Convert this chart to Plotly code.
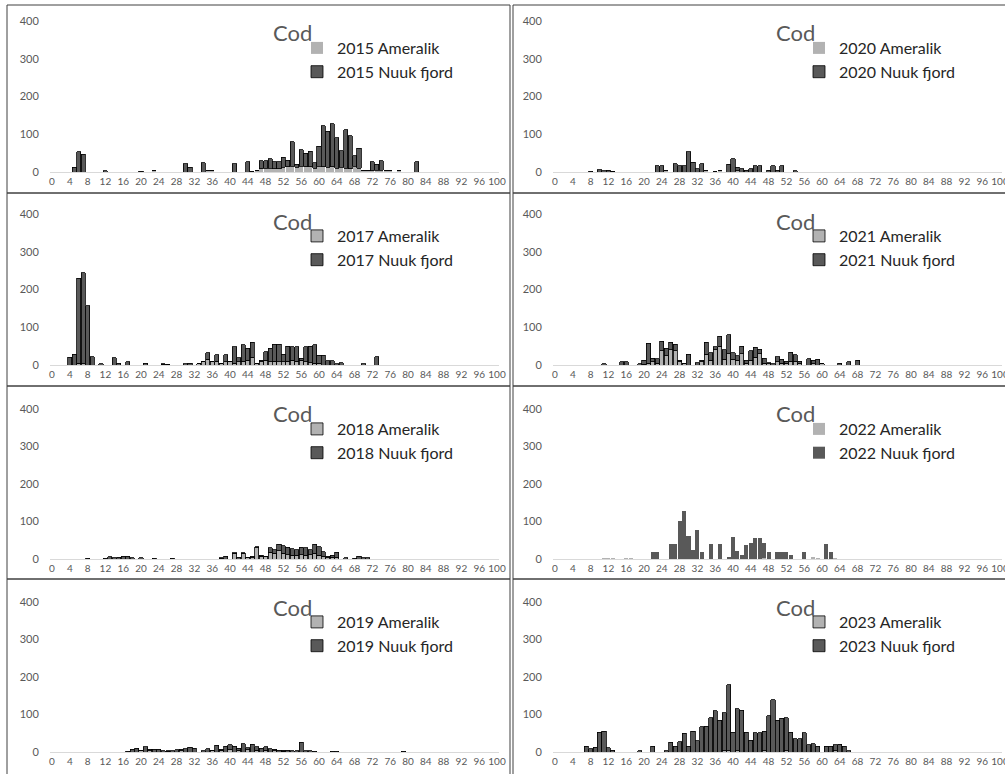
import plotly.graph_objects as go

W, H = 1005, 774

# ---------------- data (fish length in cm, 0..100) ----------------
lengths = list(range(0, 101))
tick_vals = list(range(0, 101, 4))
tick_text = [str(v) for v in tick_vals]
y_ticks = [0, 100, 200, 300, 400]


def pad(v):
    return v + [0] * (101 - len(v))


ameralik_2015 = pad([
    0, 0, 0, 0, 0, 0, 0, 0, 0, 0,
    0, 0, 0, 0, 0, 0, 0, 0, 0, 0,
    0, 0, 0, 4, 0, 0, 0, 0, 0, 0,
    0, 0, 0, 0, 0, 3, 3, 0, 0, 0,
    0, 0, 0, 0, 0, 2, 5, 8, 10, 10,
    8, 8, 12, 14, 15, 12, 15, 14, 14, 10,
    15, 14, 12, 14, 10, 12, 10, 8, 15, 10,
    5, 3, 3, 4, 5, 3, 3, 0, 3, 0])
nuuk_2015 = pad([
    0, 0, 0, 0, 0, 12, 53, 47, 0, 0,
    0, 0, 3, 0, 0, 0, 0, 0, 0, 0,
    2, 0, 0, 0, 0, 0, 0, 0, 0, 0,
    22, 13, 0, 0, 24, 0, 0, 0, 0, 0,
    0, 22, 0, 0, 27, 0, 0, 22, 20, 25,
    19, 19, 27, 17, 65, 8, 44, 36, 41, 15,
    53, 109, 96, 114, 81, 44, 102, 88, 28, 53,
    0, 0, 24, 17, 25, 0, 0, 0, 0, 0,
    0, 0, 27])

ameralik_2017 = pad([
    0, 0, 0, 0, 0, 0, 4, 3, 0, 0,
    0, 0, 0, 0, 0, 0, 0, 0, 0, 0,
    0, 0, 0, 0, 0, 2, 2, 0, 0, 0,
    0, 0, 0, 3, 8, 15, 8, 10, 3, 8,
    10, 5, 8, 10, 12, 20, 3, 8, 12, 8,
    10, 8, 8, 10, 12, 10, 12, 8, 6, 5,
    5])
nuuk_2017 = pad([
    0, 0, 0, 0, 20, 29, 226, 242, 157, 22,
    0, 3, 0, 0, 19, 5, 0, 8, 0, 0,
    0, 4, 0, 0, 0, 1, 0, 0, 0, 0,
    3, 5, 0, 0, 1, 17, 0, 17, 0, 19,
    0, 43, 11, 44, 32, 40, 0, 5, 23, 37,
    45, 47, 20, 40, 36, 38, 6, 40, 44, 48,
    21, 26, 11, 11, 3, 6, 0, 0, 0, 0,
    3, 0, 0, 22])

ameralik_2018 = pad([
    0, 0, 0, 0, 0, 0, 0, 0, 0, 0,
    0, 0, 0, 0, 0, 0, 0, 0, 0, 0,
    0, 0, 0, 0, 0, 0, 0, 0, 0, 0,
    0, 0, 0, 0, 0, 0, 0, 0, 2, 0,
    0, 15, 0, 15, 3, 3, 30, 8, 6, 18,
    15, 22, 15, 12, 10, 10, 12, 10, 12, 15,
    10, 8, 3, 5, 5])
nuuk_2018 = pad([
    0, 0, 0, 0, 0, 0, 0, 0, 2, 0,
    0, 0, 2, 6, 3, 5, 7, 8, 3, 0,
    4, 0, 0, 2, 0, 0, 0, 2, 0, 0,
    0, 0, 0, 0, 0, 0, 0, 0, 1, 7,
    0, 2, 5, 2, 2, 5, 3, 2, 2, 12,
    10, 18, 21, 19, 18, 15, 20, 20, 13, 25,
    23, 12, 5, 5, 13, 0, 4, 0, 2, 7,
    3, 3])

ameralik_2019 = pad([
    0, 0, 0, 0, 0, 0, 0, 0, 0, 0,
    0, 0, 0, 0, 0, 0, 0, 0, 0, 0,
    3, 0, 3, 0, 0, 0, 2, 0, 0, 3,
    0, 0, 0, 0, 0, 0, 4, 0, 5, 0,
    6, 0, 5, 0, 6, 0, 5, 0, 5, 0,
    3, 0, 2])
nuuk_2019 = pad([
    0, 0, 0, 0, 0, 0, 0, 0, 0, 0,
    0, 0, 0, 0, 0, 0, 0, 2, 8, 10,
    2, 14, 4, 8, 8, 4, 1, 3, 6, 4,
    9, 13, 10, 0, 3, 9, 1, 18, 3, 15,
    14, 16, 5, 22, 6, 21, 9, 10, 9, 9,
    5, 5, 3, 5, 4, 3, 26, 4, 3, 2,
    0, 0, 0, 2, 2, 0, 0, 0, 0, 0,
    0, 0, 0, 0, 0, 0, 0, 0, 0, 2])

ameralik_2020 = pad([
    0, 0, 0, 0, 0, 0, 0, 0, 0, 0,
    0, 0, 0, 1, 0, 0, 0, 0, 0, 0,
    0, 0, 0, 0, 0, 3, 0, 0, 0, 0,
    0, 0, 0, 0, 3, 0, 2, 3, 0, 0,
    0, 3])
nuuk_2020 = pad([
    0, 0, 0, 0, 0, 0, 0, 0, 2, 0,
    6, 3, 5, 1, 0, 0, 0, 0, 0, 0,
    0, 0, 0, 17, 17, 0, 0, 22, 16, 16,
    53, 26, 8, 22, 0, 0, 0, 0, 0, 20,
    35, 9, 8, 5, 8, 16, 16, 0, 5, 16,
    5, 16, 0, 0, 3])

ameralik_2021 = pad([
    0, 0, 0, 0, 0, 0, 0, 0, 0, 0,
    0, 0, 0, 0, 0, 0, 0, 0, 0, 0,
    2, 5, 8, 5, 38, 25, 40, 38, 8, 3,
    0, 0, 0, 8, 28, 12, 40, 50, 15, 30,
    15, 12, 30, 5, 12, 20, 30, 5, 3, 0,
    8, 5, 5, 10, 10, 5, 0, 0, 3, 0,
    3])
nuuk_2021 = pad([
    0, 0, 0, 0, 0, 0, 0, 0, 0, 0,
    0, 3, 0, 0, 0, 8, 8, 0, 0, 3,
    11, 52, 10, 12, 25, 20, 20, 17, 4, 2,
    28, 0, 6, 4, 32, 21, 8, 26, 25, 50,
    18, 13, 20, 8, 26, 27, 12, 13, 3, 3,
    14, 10, 5, 24, 17, 5, 0, 16, 9, 15,
    0, 0, 0, 0, 5, 0, 8, 0, 13])

ameralik_2022 = pad([
    0, 0, 0, 0, 0, 0, 0, 0, 0, 0,
    0, 2, 2, 1, 0, 0, 1, 1, 0, 0,
    0, 0, 0, 0, 0, 0, 0, 0, 0, 0,
    0, 0, 0, 0, 0, 0, 0, 0, 0, 2,
    0, 0, 0, 0, 0, 0, 0, 3, 0, 0,
    0, 0, 0, 0, 0, 0, 0, 0, 3, 2,
    0, 0, 0, 1])
nuuk_2022 = pad([
    0, 0, 0, 0, 0, 0, 0, 0, 0, 0,
    0, 0, 0, 0, 0, 0, 0, 0, 0, 0,
    0, 0, 20, 20, 0, 0, 40, 40, 102, 127,
    62, 25, 78, 20, 0, 40, 0, 40, 0, 3,
    58, 22, 12, 37, 42, 57, 57, 41, 20, 0,
    20, 20, 20, 10, 0, 0, 20, 0, 0, 0,
    0, 40, 20])

ameralik_2023 = pad([
    0, 0, 0, 0, 0, 0, 0, 0, 0, 0,
    0, 0, 0, 0, 0, 0, 0, 0, 0, 0,
    0, 0, 0, 0, 0, 0, 0, 0, 0, 0,
    0, 0, 0, 0, 0, 0, 0, 0, 3, 4,
    0, 3, 0, 0, 0, 0, 0, 3, 0, 0,
    0, 0, 3, 0, 0, 0, 0, 0, 0, 0,
    0, 0, 0, 3])
nuuk_2023 = pad([
    0, 0, 0, 0, 0, 0, 0, 16, 9, 13,
    53, 56, 11, 5, 0, 0, 0, 0, 0, 4,
    0, 0, 16, 0, 0, 3, 26, 15, 27, 50,
    15, 56, 30, 67, 69, 91, 110, 85, 102, 176,
    53, 112, 112, 53, 32, 52, 52, 53, 97, 139,
    85, 90, 89, 53, 36, 36, 51, 19, 22, 16,
    0, 15, 15, 16, 21, 15, 4])

# (year, ameralik, nuuk, column, row, bar outline, ameralik outline)
panels = [
    ("2015", ameralik_2015, nuuk_2015, 0, 0, True, False),
    ("2017", ameralik_2017, nuuk_2017, 0, 1, True, True),
    ("2018", ameralik_2018, nuuk_2018, 0, 2, True, True),
    ("2019", ameralik_2019, nuuk_2019, 0, 3, True, True),
    ("2020", ameralik_2020, nuuk_2020, 1, 0, True, False),
    ("2021", ameralik_2021, nuuk_2021, 1, 1, True, True),
    ("2022", ameralik_2022, nuuk_2022, 1, 2, False, False),
    ("2023", ameralik_2023, nuuk_2023, 1, 3, True, True),
]

# ---------------- layout geometry (pixels of the 1005x774 page) ----------------
FONT = "Lato, Carlito, 'Open Sans', sans-serif"
GREY_TXT = "#595959"
LIGHT = "#b2b2b2"
DARK = "#595959"

col_x = [(49.8, 499.2), (552.8, 1002.2)]          # plot area x-range
row_y = [(21, 172), (214, 365), (409, 559), (602, 752)]  # y of 400 and 0
row_top = [5, 193, 386, 579]
row_bot = [193, 386, 579, 776]
col_box = [(7, 510), (513, 1012)]
title_x = [292, 795]
title_dy = 28
legend_x = [297, 799]
legend_dy = 26


def fx(px):
    return px / W


def fy(py):
    return 1 - py / H


fig = go.Figure()
layout = dict(
    width=W, height=H, autosize=False,
    margin=dict(l=0, r=0, t=0, b=0, pad=0, autoexpand=False),
    paper_bgcolor="white", plot_bgcolor="white",
    barmode="stack", bargap=0.08,
    font=dict(family=FONT, color=GREY_TXT),
    shapes=[], annotations=[],
)

for i, (year, am, nu, c, r, outline, am_outline) in enumerate(panels):
    k = i + 1
    xs = "x" if k == 1 else f"x{k}"
    ys = "y" if k == 1 else f"y{k}"
    leg = "legend" if k == 1 else f"legend{k}"
    line_on = dict(color="#000000", width=0.8)
    line_off = dict(color="rgba(0,0,0,0)", width=0)
    fig.add_trace(go.Bar(
        x=lengths, y=am, name=f"{year} Ameralik",
        marker=dict(color=LIGHT, line=line_on if am_outline else line_off),
        xaxis=xs, yaxis=ys, legend=leg,
    ))
    fig.add_trace(go.Bar(
        x=lengths, y=nu, name=f"{year} Nuuk fjord",
        marker=dict(color=DARK, line=line_on if outline else line_off),
        xaxis=xs, yaxis=ys, legend=leg,
    ))
    x0, x1 = col_x[c]
    y400, y0 = row_y[r]
    xkey = "xaxis" if k == 1 else f"xaxis{k}"
    ykey = "yaxis" if k == 1 else f"yaxis{k}"
    layout[xkey] = dict(
        domain=[fx(x0), fx(x1)], anchor=ys, range=[-0.5, 100.5],
        tickmode="array", tickvals=tick_vals, ticktext=tick_text,
        tickfont=dict(size=10, color=GREY_TXT, family=FONT),
        showline=True, linecolor="#d9d9d9", linewidth=1,
        showgrid=False, zeroline=False, ticks="", fixedrange=True,
        automargin=False, ticklabeloverflow="allow",
    )
    layout[ykey] = dict(
        domain=[fy(y0), fy(y400)], anchor=xs, range=[0, 400],
        tickmode="array", tickvals=y_ticks,
        tickfont=dict(size=11, color=GREY_TXT, family=FONT),
        showline=False, showgrid=False, zeroline=False, ticks="",
        ticklabelstandoff=10, fixedrange=True, automargin=False,
    )
    layout[leg] = dict(
        x=fx(legend_x[c]), y=fy(row_top[r] + legend_dy),
        xanchor="left", yanchor="top", traceorder="normal",
        font=dict(size=16, color="#262626", family=FONT),
        bgcolor="rgba(0,0,0,0)", borderwidth=0,
        itemwidth=30, tracegroupgap=0,
    )
    layout["annotations"].append(dict(
        text="Cod", xref="paper", yref="paper",
        x=fx(title_x[c]), y=fy(row_top[r] + title_dy),
        xanchor="center", yanchor="middle", showarrow=False,
        font=dict(size=22, color=GREY_TXT, family=FONT),
    ))
    bx0, bx1 = col_box[c]
    layout["shapes"].append(dict(
        type="rect", xref="paper", yref="paper",
        x0=fx(bx0), x1=fx(bx1), y0=fy(row_bot[r]), y1=fy(row_top[r]),
        line=dict(color="#404040", width=1), fillcolor="rgba(0,0,0,0)",
        layer="above",
    ))

fig.update_layout(**layout)
fig.write_html(
    "out.html",
    config={"displayModeBar": False},
    post_script="document.body.style.margin='0';"
                "document.documentElement.style.overflow='hidden';",
)
